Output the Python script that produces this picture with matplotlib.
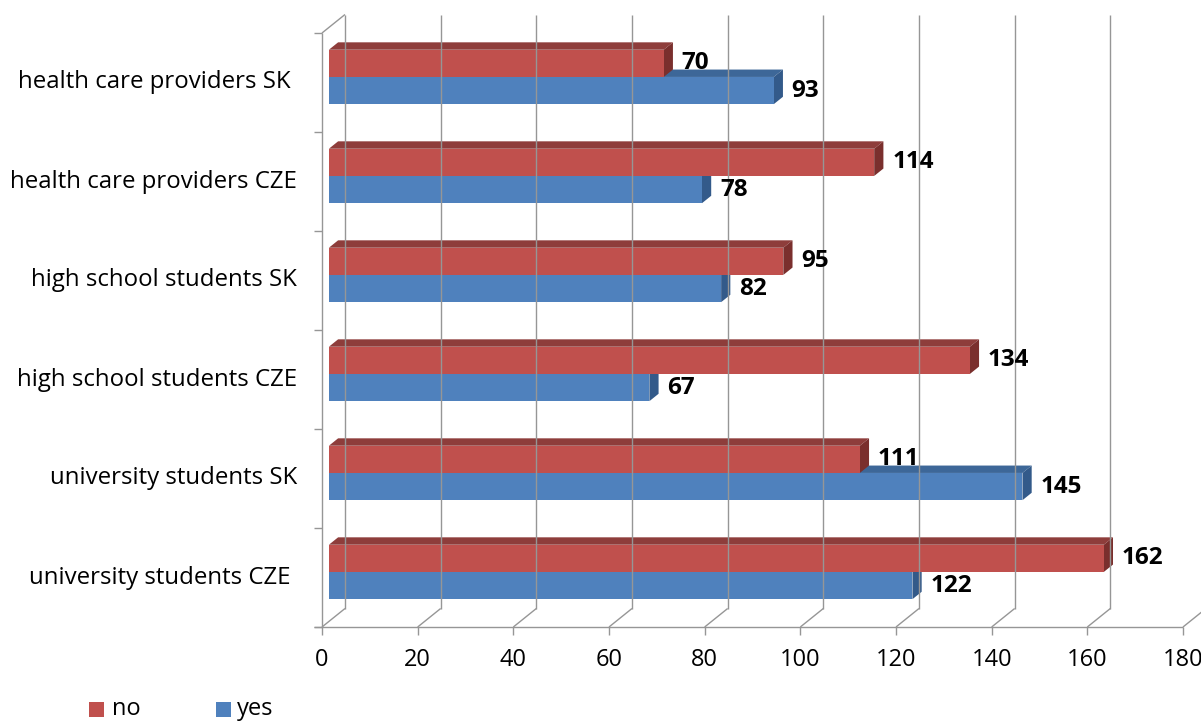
import matplotlib.pyplot as plt
from matplotlib.patches import Polygon, Rectangle

plt.rcParams['font.family'] = ['Open Sans', 'DejaVu Sans']

# data, bottom category first
categories = ['university students CZE ', 'university students SK',
              'high school students CZE', 'high school students SK',
              'health care providers CZE', 'health care providers SK ']
no_vals = [162, 111, 134, 95, 114, 70]
yes_vals = [122, 145, 67, 82, 78, 93]
xticks = [0, 20, 40, 60, 80, 100, 120, 140, 160, 180]

RED, RED_TOP, RED_SIDE = '#C0504D', '#8E3D3B', '#7A2F2D'
BLUE, BLUE_TOP, BLUE_SIDE = '#4F81BD', '#3D6798', '#335A8A'
GRID = '#969696'

W, H = 1201, 722
fig = plt.figure(figsize=(W / 100, H / 100), dpi=100)
# front plane of the plot: x 322..1183 px, y 33..627 px (from top)
ax = fig.add_axes([322 / W, (H - 627) / H, 861 / W, 594 / H])
ax.set_xlim(0, 180)
ax.set_ylim(0, 6)
ax.axis('off')

PX_X = 180 / 861   # value units per pixel
PX_Y = 6 / 594     # category units per pixel
DEPTH_X, DEPTH_Y = 23, 18.5   # full depth of the box in pixels


def P(x, y, f):
    """point at value x, category y, depth fraction f"""
    return (x + f * DEPTH_X * PX_X, y + f * DEPTH_Y * PX_Y)


def seg(p0, p1):
    ax.plot([p0[0], p1[0]], [p0[1], p1[1]], color=GRID, lw=1,
            clip_on=False, solid_capstyle='butt')


# back wall gridlines
for v in xticks:
    seg(P(v, 0, 1), P(v, 6, 1))
# floor: front edge, diagonals and ticks
seg(P(-8 * PX_X, 0, 0), P(180, 0, 0))
for v in xticks:
    seg(P(v, 0, 0), P(v, 0, 1))
    seg(P(v, 0, 0), P(v, -8 * PX_Y, 0))
# left wall
seg(P(0, 0, 0), P(0, 6, 0))
seg(P(0, 6, 0), P(0, 6, 1))
for i in range(7):
    seg(P(-8 * PX_X, i, 0), P(0, i, 0))

F0, F1 = 0.3, 0.7


def bar3d(y0, y1, v, c_front, c_top, c_side):
    top = [P(0, y1, F0), P(v, y1, F0), P(v, y1, F1), P(0, y1, F1)]
    side = [P(v, y0, F0), P(v, y0, F1), P(v, y1, F1), P(v, y1, F0)]
    front = [P(0, y0, F0), P(v, y0, F0), P(v, y1, F0), P(0, y1, F0)]
    for pts, c in ((top, c_top), (side, c_side), (front, c_front)):
        ax.add_patch(Polygon(pts, closed=True, facecolor=c, edgecolor='none',
                             clip_on=False))


BH = 0.275
for i in range(len(categories)):
    yb = i + 0.225
    bar3d(yb, yb + BH, yes_vals[i], BLUE, BLUE_TOP, BLUE_SIDE)
    bar3d(yb + BH, yb + 2 * BH, no_vals[i], RED, RED_TOP, RED_SIDE)

# value labels
for i in range(len(categories)):
    yb = i + 0.225
    for v, yc in ((yes_vals[i], yb + BH / 2), (no_vals[i], yb + 1.5 * BH)):
        x, y = P(v, yc, F0)
        ax.text(x + 18 * PX_X, y, str(v), ha='left', va='center',
                fontsize=17.5, fontweight='bold', color='black', clip_on=False)

# category labels
for i, lab in enumerate(categories):
    ax.text(-25 * PX_X, i + 0.5, lab, ha='right', va='center',
            fontsize=17.3, color='black')

# value axis labels
for v in xticks:
    ax.text(v, -33 * PX_Y, str(v), ha='center', va='center',
            fontsize=17, color='black', clip_on=False)

# legend
fig.add_artist(Rectangle((89 / W, (H - 717) / H), 15 / W, 15 / H,
                         facecolor=RED, edgecolor='none'))
fig.text(112 / W, (H - 709) / H, 'no', ha='left', va='center', fontsize=17)
fig.add_artist(Rectangle((216 / W, (H - 717) / H), 15 / W, 15 / H,
                         facecolor=BLUE, edgecolor='none'))
fig.text(237 / W, (H - 709) / H, 'yes', ha='left', va='center', fontsize=17)

fig.savefig('out.png', dpi=100, facecolor='white')
